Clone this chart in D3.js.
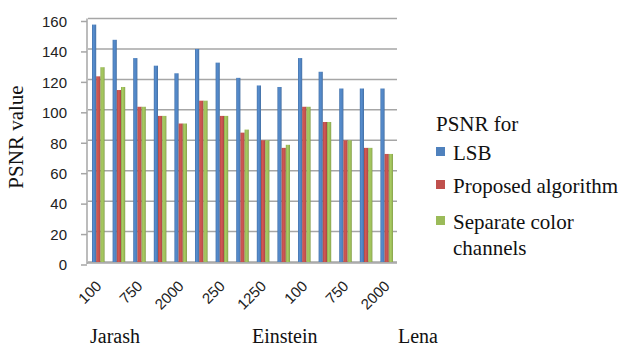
<!DOCTYPE html>
<html>
<head>
<meta charset="utf-8">
<script src="https://cdn.jsdelivr.net/npm/d3@7"></script>
<style>
  html, body { margin: 0; padding: 0; background: #fff; }
  svg { display: block; }
</style>
</head>
<body>
<svg id="chart" width="622" height="349"></svg>
<script>
// Test images and embedded message sizes
const images = ["Jarash", "Einstein", "Lena"];
const sizes = [100, 250, 750, 1250, 2000];

// PSNR per (image, size), in image order
const lsb      = [156, 146, 134, 129, 124, 140, 131, 121, 116, 115, 134, 125, 114, 114, 114];
const proposed = [122, 113, 102, 96, 91, 106, 96, 85, 80, 75, 102, 92, 80, 75, 71];
const separate = [128, 115, 102, 96, 91, 106, 96, 87, 80, 77, 102, 92, 80, 75, 71];

const seriesNames = ["LSB", "Proposed algorithm", "Separate color channels"];
const seriesColors = ["#4F81BD", "#C0504D", "#9BBB59"];
const yTicks = [0, 20, 40, 60, 80, 100, 120, 140, 160];

// Flattened category rows
const rows = [];
images.forEach((img, i) => sizes.forEach((s, j) => {
  const k = i * sizes.length + j;
  rows.push({ key: img + "-" + s, image: img, size: s, values: [lsb[k], proposed[k], separate[k]] });
}));

const svg = d3.select("#chart");
const serif = "'Liberation Serif', 'Times New Roman', serif";
const sans = "'Liberation Sans', Arial, sans-serif";

const x = d3.scaleBand().domain(rows.map(r => r.key)).range([88, 397]);
const xs = d3.scaleBand().domain(d3.range(3)).range([4, 16.6]);
const y = d3.scaleLinear().domain([0, 160]).range([262, 18.5]);

// Shaded fills for the columns
const defs = svg.append("defs");
seriesColors.forEach((c, i) => {
  const g = defs.append("linearGradient").attr("id", "g" + i)
    .attr("x1", "0%").attr("x2", "100%").attr("y1", "0%").attr("y2", "0%");
  const base = d3.color(c);
  g.append("stop").attr("offset", "0%").attr("stop-color", base.darker(0.3));
  g.append("stop").attr("offset", "35%").attr("stop-color", base.brighter(0.25));
  g.append("stop").attr("offset", "75%").attr("stop-color", base);
  g.append("stop").attr("offset", "100%").attr("stop-color", base.darker(0.5));
});

// Gridlines
svg.append("g").selectAll("line").data(yTicks).join("line")
  .attr("x1", 88).attr("x2", 397)
  .attr("y1", d => y(d)).attr("y2", d => y(d))
  .attr("stroke", "#a6a6a6").attr("stroke-width", 1.5);

// Left wall and ticks
svg.append("line").attr("x1", 87).attr("x2", 87).attr("y1", y(160)).attr("y2", y(0) + 2)
  .attr("stroke", "#a6a6a6").attr("stroke-width", 1.5);
svg.append("g").selectAll("line").data(yTicks).join("line")
  .attr("x1", 81).attr("x2", 87)
  .attr("y1", d => y(d) + 3).attr("y2", d => y(d) + 3)
  .attr("stroke", "#a6a6a6").attr("stroke-width", 1.5);

svg.append("g").selectAll("text").data(yTicks).join("text")
  .attr("x", 67).attr("y", d => y(d) + 3).attr("dy", "0.35em")
  .attr("text-anchor", "end")
  .attr("font-family", sans).attr("font-size", 15).attr("fill", "#222")
  .text(d => d);

// Columns
const groups = svg.append("g").selectAll("g").data(rows).join("g")
  .attr("transform", d => `translate(${x(d.key)},0)`);
groups.selectAll("rect").data(d => d.values.map((v, i) => ({ v, i }))).join("rect")
  .attr("x", d => xs(d.i))
  .attr("width", xs.bandwidth())
  .attr("y", d => y(d.v))
  .attr("height", d => y(0) - y(d.v))
  .attr("fill", d => `url(#g${d.i})`);

// Floor edge
svg.append("line").attr("x1", 87).attr("x2", 397).attr("y1", y(0) + 1).attr("y2", y(0) + 1)
  .attr("stroke", "#a6a6a6").attr("stroke-width", 1.5);

// Category labels (every second size)
svg.append("g").selectAll("text").data(rows.filter((r, i) => i % 2 === 0)).join("text")
  .attr("transform", d => `translate(${x(d.key) + x.bandwidth() / 2 + 4},287) rotate(-45)`)
  .attr("text-anchor", "end")
  .attr("font-family", sans).attr("font-size", 15).attr("fill", "#222")
  .text(d => d.size);

// Image names under the categories
const imageLabelX = [90, 252, 398];
svg.append("g").selectAll("text").data(images).join("text")
  .attr("x", (d, i) => imageLabelX[i]).attr("y", 343)
  .attr("font-family", serif).attr("font-size", 20).attr("fill", "#111")
  .text(d => d);

// Axis title
svg.append("text")
  .attr("transform", "translate(23,137) rotate(-90)")
  .attr("text-anchor", "middle")
  .attr("font-family", serif).attr("font-size", 21).attr("fill", "#111")
  .text("PSNR value");

// Legend
const legend = svg.append("g");
legend.append("text").attr("x", 436).attr("y", 124).attr("dy", "0.35em")
  .attr("font-family", serif).attr("font-size", 21).attr("fill", "#111")
  .text("PSNR for");
const itemY = [152, 185, 221];
const item = legend.selectAll("g.item").data(seriesNames).join("g").attr("class", "item")
  .attr("transform", (d, i) => `translate(436,${itemY[i]})`);
item.append("rect").attr("x", 0).attr("y", -5).attr("width", 9).attr("height", 9)
  .attr("fill", (d, i) => seriesColors[i]);
item.append("text").attr("x", 17).attr("y", 0)
  .attr("font-family", serif).attr("font-size", 21).attr("fill", "#111")
  .each(function (d) {
    const words = d === "Separate color channels" ? ["Separate color", "channels"] : [d];
    d3.select(this).selectAll("tspan").data(words).join("tspan")
      .attr("x", 17).attr("dy", (w, j) => j === 0 ? "0.4em" : "1.2em")
      .text(w => w);
  });
</script>
</body>
</html>
